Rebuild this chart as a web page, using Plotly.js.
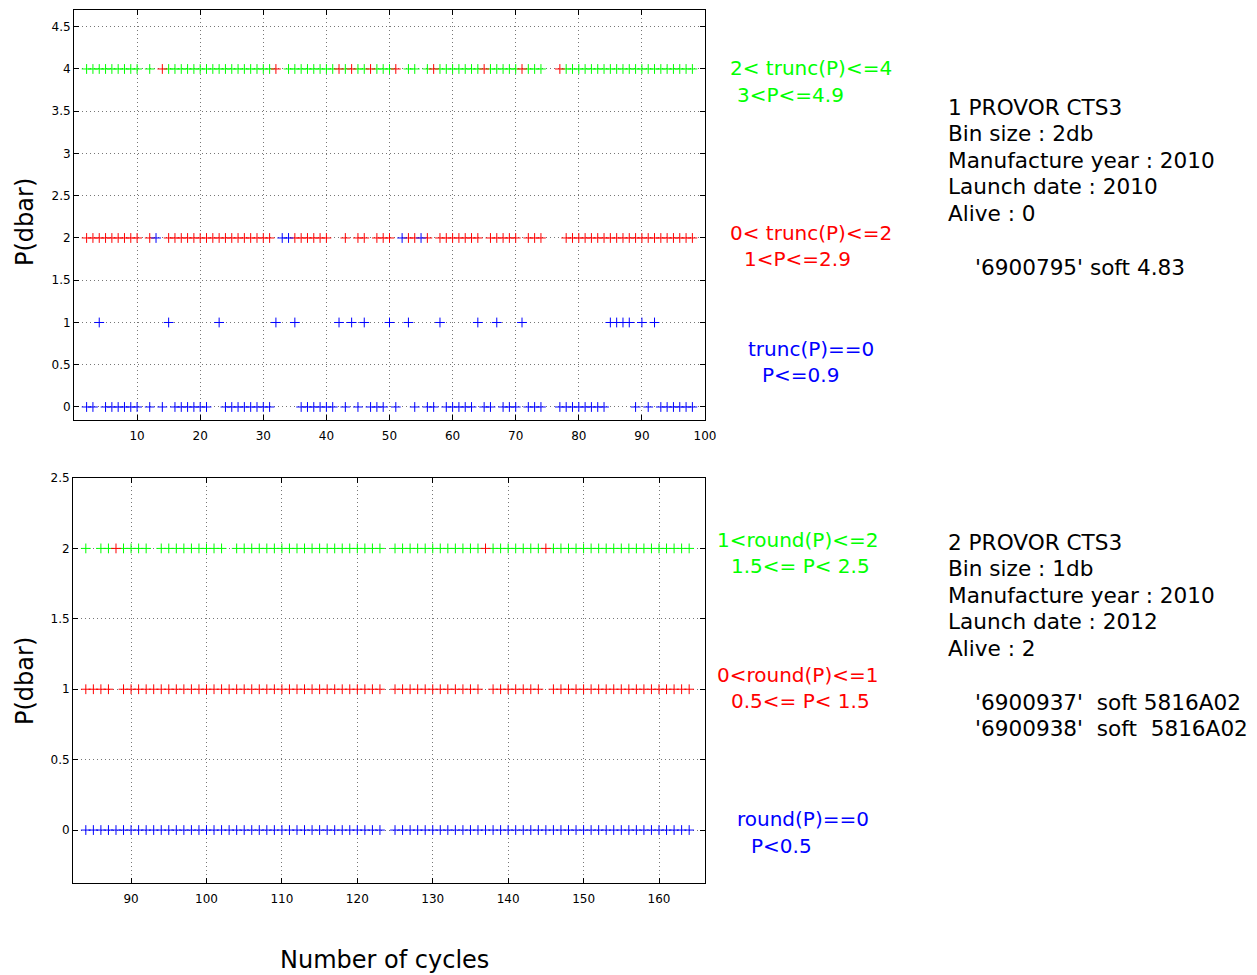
<!DOCTYPE html>
<html>
<head>
<meta charset="utf-8">
<script src="https://cdn.plot.ly/plotly-3.0.1.min.js"></script>
<style>html,body{margin:0;padding:0;background:#fff;}#chart{width:1257px;height:975px;}</style>
</head>
<body>
<div id="chart"></div>
<script>
// ---------- data (cycle numbers where a mark is drawn) ----------
// top panel: float 1 (bin size 2 db)
const topGreen4 = [2,3,4,5,6,7,8,9,10,12,15,16,17,18,19,20,21,22,23,24,25,26,27,28,29,30,31,34,35,36,37,38,39,40,41,43,45,46,48,49,50,53,54,56,58,59,60,61,62,63,64,66,67,68,69,70,72,73,74,78,79,80,81,82,83,84,85,86,87,88,89,90,91,92,93,94,95,96,97,98];
const topRed4 = [14,32,42,44,47,51,57,65,71,77];
const topRed2 = [2,3,4,5,6,7,8,9,10,12,15,16,17,18,19,20,21,22,23,24,25,26,27,28,29,30,31,35,36,37,38,39,40,43,45,46,48,49,50,53,54,56,58,59,60,61,62,63,64,66,67,68,69,70,72,73,74,78,79,80,81,82,83,84,85,86,87,88,89,90,91,92,93,94,95,96,97,98];
const topBlue2 = [13,33,34,52,55];
const topBlue1 = [4,15,23,32,35,42,44,46,50,53,58,64,67,71,85,86,87,88,90,92];
const topBlue0 = [2,3,5,6,7,8,9,10,12,14,16,17,18,19,20,21,24,25,26,27,28,29,30,31,36,37,38,39,40,41,43,45,47,48,49,51,54,56,57,59,60,61,62,63,65,66,68,69,70,72,73,74,77,78,79,80,81,82,83,84,89,91,93,94,95,96,97,98];
const topXTicks = [10,20,30,40,50,60,70,80,90,100];
const topYTicks = [0,0.5,1,1.5,2,2.5,3,3.5,4,4.5];
const topYLabels = ['0','0.5','1','1.5','2','2.5','3','3.5','4','4.5'];

// bottom panel: floats 2 (bin size 1 db)
const botGreen2 = [84,86,87,89,90,91,92,94,95,96,97,98,99,100,101,102,104,105,106,107,108,109,110,111,112,113,114,115,116,117,118,119,120,121,122,123,125,126,127,128,129,130,131,132,133,134,135,136,138,139,140,141,142,143,144,146,147,148,149,150,151,152,153,154,155,156,157,158,159,160,161,162,163,164];
const botRed2 = [88,137,145];
const botRed1 = [84,85,86,87,89,90,91,92,93,94,95,96,97,98,99,100,101,102,103,104,105,106,107,108,109,110,111,112,113,114,115,116,117,118,119,120,121,122,123,125,126,127,128,129,130,131,132,133,134,135,136,138,139,140,141,142,143,144,146,147,148,149,150,151,152,153,154,155,156,157,158,159,160,161,162,163,164];
const botBlue0 = [84,85,86,87,88,89,90,91,92,93,94,95,96,97,98,99,100,101,102,103,104,105,106,107,108,109,110,111,112,113,114,115,116,117,118,119,120,121,122,123,125,126,127,128,129,130,131,132,133,134,135,136,137,138,139,140,141,142,143,144,145,146,147,148,149,150,151,152,153,154,155,156,157,158,159,160,161,162,163,164];
const botXTicks = [90,100,110,120,130,140,150,160];
const botYTicks = [0,0.5,1,1.5,2,2.5];
const botYLabels = ['0','0.5','1','1.5','2','2.5'];

// text
const topLegend = [['2< trunc(P)<=4','3<P<=4.9'],['0< trunc(P)<=2','1<P<=2.9'],['trunc(P)==0','P<=0.9']];
const botLegend = [['1<round(P)<=2','1.5<= P< 2.5'],['0<round(P)<=1','0.5<= P< 1.5'],['round(P)==0','P<0.5']];
const info1 = ['1 PROVOR CTS3','Bin size : 2db','Manufacture year : 2010','Launch date : 2010','Alive : 0'];
const floats1 = ["'6900795' soft 4.83"];
const info2 = ['2 PROVOR CTS3','Bin size : 1db','Manufacture year : 2010','Launch date : 2012','Alive : 2'];
const floats2 = ["'6900937'  soft 5816A02","'6900938'  soft  5816A02"];

// ---------- drawing ----------
const W = 1257, H = 975;
const GREEN = '#00ff00', RED = '#ff0000', BLUE = '#0000ff';
const FONT = 'DejaVu Sans, sans-serif';
const px = x => x / W;
const py = y => 1 - y / H;

function marks(xs, level, color, xa, ya) {
  return {
    x: xs, y: xs.map(() => level), type: 'scatter', mode: 'markers',
    xaxis: xa, yaxis: ya, showlegend: false, hoverinfo: 'x+y',
    marker: {symbol: 'cross-thin-open', size: 7, color: color, line: {color: color, width: 1}}
  };
}

const traces = [
  marks(topBlue0, 0, BLUE, 'x', 'y'),
  marks(topBlue1, 1, BLUE, 'x', 'y'),
  marks(topRed2, 2, RED, 'x', 'y'),
  marks(topBlue2, 2, BLUE, 'x', 'y'),
  marks(topGreen4, 4, GREEN, 'x', 'y'),
  marks(topRed4, 4, RED, 'x', 'y'),
  marks(botBlue0, 0, BLUE, 'x2', 'y2'),
  marks(botRed1, 1, RED, 'x2', 'y2'),
  marks(botGreen2, 2, GREEN, 'x2', 'y2'),
  marks(botRed2, 2, RED, 'x2', 'y2')
];

function axisCommon() {
  return {
    showline: true, linecolor: '#000', linewidth: 1, mirror: 'ticks',
    ticks: 'inside', ticklen: 5, tickcolor: '#000', tickwidth: 1,
    showgrid: true, gridcolor: '#777', griddash: '1px,3px', gridwidth: 1,
    zeroline: false, tickfont: {family: FONT, size: 12, color: '#000'},
    fixedrange: true
  };
}

const layout = {
  width: W, height: H,
  margin: {l: 0, r: 0, t: 0, b: 0},
  paper_bgcolor: '#fff', plot_bgcolor: '#fff',
  font: {family: FONT, color: '#000'},
  xaxis: Object.assign(axisCommon(), {domain: [px(74), px(705)], range: [0, 100], tickmode: 'array', tickvals: topXTicks, anchor: 'y', ticklabelstandoff: 5}),
  yaxis: Object.assign(axisCommon(), {domain: [py(420), py(10)], range: [-0.154, 4.698], tickmode: 'array', tickvals: topYTicks, ticktext: topYLabels, anchor: 'x'}),
  xaxis2: Object.assign(axisCommon(), {domain: [px(73), px(705)], range: [82.3, 166.1], tickmode: 'array', tickvals: botXTicks, anchor: 'y2', ticklabelstandoff: 5}),
  yaxis2: Object.assign(axisCommon(), {domain: [py(883), py(478)], range: [-0.376, 2.5], tickmode: 'array', tickvals: botYTicks, ticktext: botYLabels, anchor: 'x2'}),
  annotations: []
};

function note(text, x, y, color, size, extra) {
  layout.annotations.push(Object.assign({
    text: text, xref: 'paper', yref: 'paper', x: px(x), y: py(y),
    xanchor: 'left', yanchor: 'middle', showarrow: false, borderpad: 0, borderwidth: 0,
    font: {family: FONT, size: size, color: color}
  }, extra || {}));
}

// axis titles
note('P(dbar)', 25, 222, '#000', 24, {xanchor: 'center', textangle: -90});
note('P(dbar)', 25, 681, '#000', 24, {xanchor: 'center', textangle: -90});
note('Number of cycles', 384, 960, '#000', 24, {xanchor: 'center'});

// coloured class labels
const topColors = [GREEN, RED, BLUE];
const topPos = [[730, 68, 737, 95], [730, 233, 744, 259], [748, 349, 762, 375]];
topLegend.forEach((pair, i) => {
  note(pair[0], topPos[i][0], topPos[i][1], topColors[i], 20);
  note(pair[1], topPos[i][2], topPos[i][3], topColors[i], 20);
});
const botPos = [[717, 540, 731, 566], [717, 675, 731, 701], [737, 819, 751, 846]];
botLegend.forEach((pair, i) => {
  note(pair[0], botPos[i][0], botPos[i][1], topColors[i], 20);
  note(pair[1], botPos[i][2], botPos[i][3], topColors[i], 20);
});

// info blocks
info1.forEach((t, i) => note(t, 948, 107 + i * 26.6, '#000', 21.6));
floats1.forEach((t, i) => note(t, 975, 267 + i * 26.6, '#000', 21.6));
info2.forEach((t, i) => note(t, 948, 542 + i * 26.6, '#000', 21.6));
floats2.forEach((t, i) => note(t, 975, 702 + i * 26.6, '#000', 21.6));

Plotly.newPlot('chart', traces, layout, {displayModeBar: false, staticPlot: true});
</script>
</body>
</html>
